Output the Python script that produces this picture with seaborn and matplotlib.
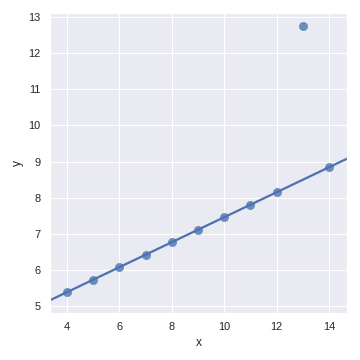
import matplotlib
matplotlib.use("Agg")
import matplotlib.pyplot as plt
import seaborn as sns
import pandas as pd

x_vals = [10, 8, 13, 9, 11, 14, 6, 4, 12, 7, 5]
y_vals = [7.46, 6.77, 12.74, 7.11, 7.81, 8.84, 6.08, 5.39, 8.15, 6.42, 5.73]

sns.set_theme()
plt.rcParams["font.family"] = ["Liberation Sans", "DejaVu Sans"]
df = pd.DataFrame({"x": x_vals, "y": y_vals})

fig = plt.figure(figsize=(5, 5), dpi=72)
ax = fig.add_axes([50 / 360, 1 - 313 / 360, 297 / 360, 300 / 360])
sns.scatterplot(x="x", y="y", data=df, s=80, ax=ax, color="C0",
                alpha=0.8, linewidth=0)
ax.set_xlim(3.35, 14.69)
ax.set_ylim(4.81, 13.11)

# robust-like fit: exclude the single outlier from the regression
fit_df = df[df.y < 12]
sns.regplot(x="x", y="y", data=fit_df, scatter=False, ci=None,
            truncate=False, ax=ax, color="C0")
ax.set_xlim(3.35, 14.69)
ax.set_ylim(4.81, 13.11)

fig.savefig("out.png", dpi=72)
